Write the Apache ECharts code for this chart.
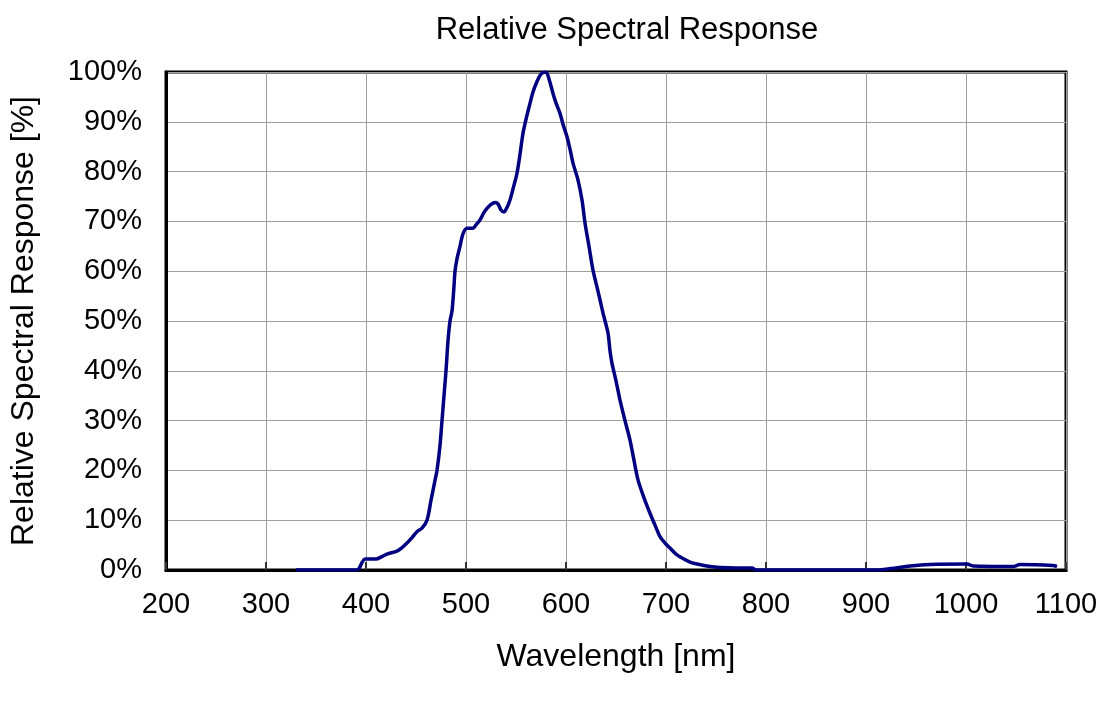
<!DOCTYPE html>
<html><head><meta charset="utf-8">
<script src="https://cdn.jsdelivr.net/npm/echarts@6/dist/echarts.min.js"></script>
<style>html,body{margin:0;padding:0;background:#fff}#c{width:1105px;height:702px}</style>
</head><body><div id="c"></div>
<script>
const wavelength = [330,390,393,396,399,410,416,421,431,436,441,446,451,456,461,465,469,471,474,476,478,480,482,484,486,488,489,491,494,497,501,507,510,514,518,521,525,529,532,535,538,541,544,547,551,554,557,560,564,567,571,574,577,580,583,587,590,594,597,601,604,607,612,616,619,623,627,632,637,642,644,646,650,654,659,664,668,672,678,684,689,694,699,704,710,717,724,731,744,754,770,786,790,910,925,944,964,1001,1007,1047,1054,1087,1091];
const response = [0,0,0.3,1.5,2.2,2.2,2.7,3.2,3.8,4.5,5.4,6.5,7.7,8.4,10,14,18,20,25,30,35,40,46,50,52,57,60,62.5,65,67.5,68.6,68.6,69.3,70.3,71.8,72.6,73.4,73.8,73.5,72.3,71.9,72.8,74.3,76.5,79.7,83.5,87.7,90.5,93.7,96,98.1,99.3,99.9,100,98.6,95.7,93.8,91.7,89.5,87,84.5,81.7,78.3,74.3,69.7,65,60.2,56,51.6,47.6,44,41.5,38,34.1,30,26.1,22,18.1,14.5,11.4,9,6.7,5.4,4.4,3.2,2.3,1.6,1.2,0.7,0.5,0.4,0.4,0,0,0.3,0.8,1.1,1.2,0.8,0.7,1.1,0.9,0.7];
const titleText = 'Relative Spectral Response';
const xName = 'Wavelength [nm]';
const yName = 'Relative Spectral Response [%]';

const font = 'Liberation Sans, Arial, sans-serif';
const chart = echarts.init(document.getElementById('c'));
chart.setOption({
  animation: false,
  backgroundColor: '#fff',
  title: { text: titleText, left: 622, top: 10, textAlign: 'center',
    textStyle: { fontFamily: font, fontSize: 31, fontWeight: 'normal', color: '#000' } },
  grid: { left: 166, top: 72, right: 39, bottom: 132, show: true, borderColor: '#000', borderWidth: 3, backgroundColor: 'transparent' },
  xAxis: { type: 'value', min: 200, max: 1100, interval: 100,
    name: xName, nameLocation: 'middle', nameGap: 71,
    nameTextStyle: { fontFamily: font, fontSize: 32, color: '#000' },
    axisLine: { show: true, lineStyle: { color: '#000', width: 3 } },
    axisTick: { show: true, inside: true, length: 8, lineStyle: { color: '#333', width: 2 } },
    axisLabel: { fontFamily: font, fontSize: 29, color: '#000', margin: 20, formatter: v => String(v) },
    splitLine: { show: true, lineStyle: { color: '#a0a0a0', width: 1 } } },
  yAxis: { type: 'value', min: 0, max: 100, interval: 10,
    name: yName, nameLocation: 'middle', nameGap: 126, nameRotate: 90,
    nameTextStyle: { fontFamily: font, fontSize: 32, color: '#000' },
    axisLine: { show: true, lineStyle: { color: '#000', width: 3 } },
    axisTick: { show: false },
    axisLabel: { fontFamily: font, fontSize: 29, color: '#000', margin: 24, formatter: '{value}%' },
    splitLine: { show: true, lineStyle: { color: '#a0a0a0', width: 1 } } },
  series: [{ type: 'line', data: wavelength.map((w, i) => [w, response[i]]),
    showSymbol: false, smooth: 0.3, lineStyle: { color: '#000080', width: 3.5 }, z: 3 }]
});
</script></body></html>
